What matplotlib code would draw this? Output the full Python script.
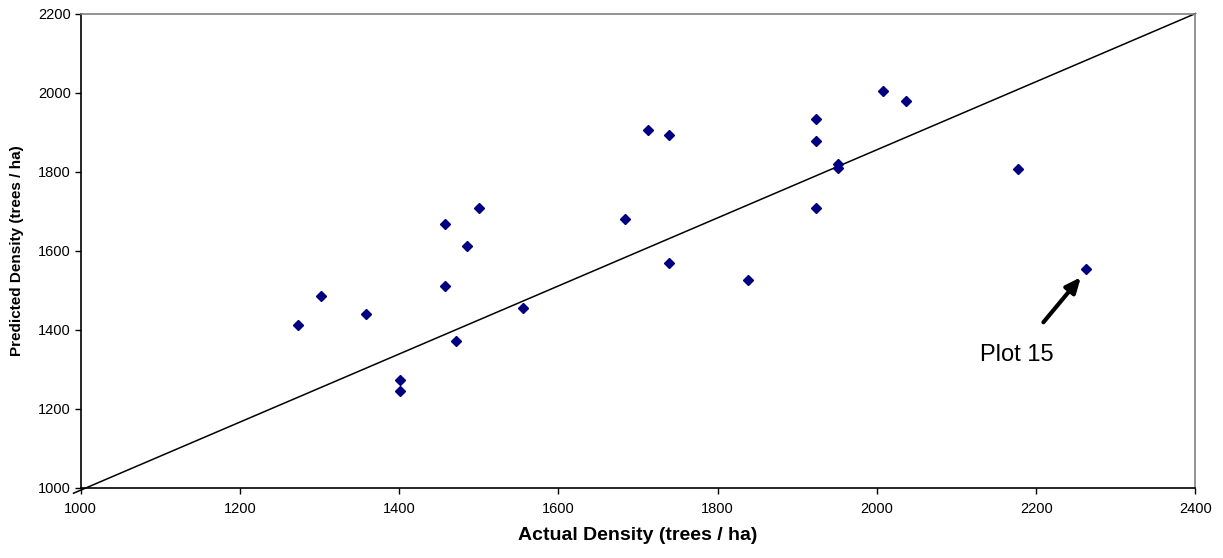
import matplotlib
matplotlib.use("Agg")
import matplotlib.pyplot as plt

plt.rcParams['font.family'] = ['Liberation Sans', 'DejaVu Sans']

actual = [1273, 1302, 1358, 1401, 1401, 1458, 1458, 1485, 1500, 1471, 1556,
          1712, 1739, 1683, 1739, 1838, 1923, 1923, 1951, 1951, 1923,
          2008, 2036, 2177, 2263]
predicted = [1412, 1485, 1441, 1274, 1245, 1667, 1512, 1611, 1708, 1372, 1456,
             1907, 1894, 1680, 1570, 1525, 1934, 1878, 1821, 1809, 1708,
             2004, 1979, 1808, 1554]

ref_line_x = [991, 2400]
ref_line_y = [986, 2201]

x_ticks = [1000, 1200, 1400, 1600, 1800, 2000, 2200, 2400]
y_ticks = [1000, 1200, 1400, 1600, 1800, 2000, 2200]

fig = plt.figure(figsize=(12.23, 5.58), dpi=100)
ax = fig.add_axes([0.066, 0.126, 0.9115, 0.849])

ax.plot(ref_line_x, ref_line_y, color='black', lw=1.1, clip_on=False, zorder=2)
ax.plot(actual, predicted, linestyle='none', marker='D', markersize=5.3,
        color='#000080', zorder=3)

ax.annotate('', xy=(2256, 1533), xytext=(2209, 1419),
            arrowprops=dict(arrowstyle='-|>,head_length=0.9,head_width=0.4',
                            color='black', lw=3, shrinkA=0, shrinkB=0))
ax.text(2175, 1335, 'Plot 15', fontsize=17, ha='center', va='center')

ax.set_xlim(1000, 2400)
ax.set_ylim(1000, 2200)
ax.set_xticks(x_ticks)
ax.set_yticks(y_ticks)
ax.tick_params(axis='both', labelsize=10.5, length=4, width=1, direction='out',
               color='black')
ax.tick_params(axis='x', pad=6)
ax.tick_params(axis='y', pad=3)

for s in ['left', 'bottom']:
    ax.spines[s].set_color('black')
    ax.spines[s].set_linewidth(1.2)
for s in ['right', 'top']:
    ax.spines[s].set_color('#808080')
    ax.spines[s].set_linewidth(1.2)

ax.set_xlabel('Actual Density (trees / ha)', fontsize=14, fontweight='bold',
              labelpad=8)
ax.set_ylabel('Predicted Density (trees / ha)', fontsize=11, fontweight='bold',
              labelpad=10)

fig.savefig('out.png', dpi=100)
